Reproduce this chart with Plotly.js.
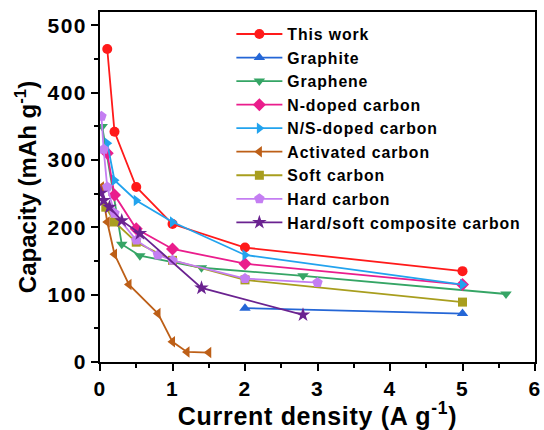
<!DOCTYPE html>
<html>
<head>
<meta charset="utf-8">
<script src="https://cdn.plot.ly/plotly-3.0.1.min.js"></script>
<style>
html,body{margin:0;padding:0;background:#fff;}
#chart{width:544px;height:430px;}
#chart .legendtext{letter-spacing:0.9px;}
#chart .legend .scrollbox, #chart .legend g{clip-path:none !important;}
#chart .xtick text, #chart .ytick text{letter-spacing:1.4px;}
#chart .xtitle{letter-spacing:0.7px;}
</style>
</head>
<body>
<div id="chart"></div>
<script>
// Series names
const names = ["This work","Graphite","Graphene","N-doped carbon","N/S-doped carbon","Activated carbon","Soft carbon","Hard carbon","Hard/soft composite carbon"];

// Current density (A g-1) and capacity (mAh g-1) per series
const xThisWork = [0.1, 0.2, 0.5, 1, 2, 5];
const yThisWork = [465, 342, 260, 205, 170, 135];

const xGraphite = [2, 5];
const yGraphite = [80, 72];

const xGraphene = [0.03, 0.3, 0.55, 1.4, 2.8, 5.6];
const yGraphene = [350, 175, 158, 140, 128, 101];

const xNdoped = [0.1, 0.2, 0.5, 1, 2, 5];
const yNdoped = [310, 248, 198, 168, 146, 115];

const xNSdoped = [0.1, 0.2, 0.5, 1, 2, 5];
const yNSdoped = [325, 270, 240, 208, 159, 115];

const xActivated = [0.02, 0.1, 0.2, 0.4, 0.8, 1.0, 1.2, 1.5];
const yActivated = [260, 208, 160, 115, 72, 30, 15, 14];

const xSoft = [0.08, 0.2, 0.5, 1, 2, 5];
const ySoft = [230, 208, 178, 151, 122, 89];

const xHard = [0.02, 0.05, 0.1, 0.2, 0.5, 0.8, 1, 2, 3];
const yHard = [365, 316, 260, 221, 181, 159, 151, 124, 118];

const xHardSoft = [0.01, 0.05, 0.13, 0.3, 0.55, 1.4, 2.8];
const yHardSoft = [251, 240, 230, 210, 191, 110, 70];

const xs = [xThisWork, xGraphite, xGraphene, xNdoped, xNSdoped, xActivated, xSoft, xHard, xHardSoft];
const ys = [yThisWork, yGraphite, yGraphene, yNdoped, yNSdoped, yActivated, ySoft, yHard, yHardSoft];
const colors = ["#ff1a1a","#2466d6","#35a565","#ea1d8c","#22a3ee","#bd5f17","#a89e1e","#c47ef2","#6a2290"];
const symbols = ["circle","triangle-up","triangle-down","diamond","triangle-right","triangle-left","square","pentagon","star"];
const sizes = [10,10,10,10,10,10,9,11,11];

const FONT = "Liberation Sans, Arial, sans-serif";

const traces = names.map((n, i) => ({
  type: "scatter",
  mode: "lines+markers",
  name: n,
  x: xs[i],
  y: ys[i],
  line: {color: colors[i], width: 1.8},
  marker: {color: colors[i], symbol: symbols[i], size: sizes[i], line: {width: 0}}
}));

const layout = {
  width: 544, height: 430,
  paper_bgcolor: "#ffffff",
  plot_bgcolor: "#ffffff",
  margin: {l: 100, r: 9, t: 12, b: 68},
  font: {family: FONT, color: "#000", weight: "bold"},
  showlegend: true,
  legend: {
    x: 0.302, y: 0.985, xanchor: "left", yanchor: "top",
    bgcolor: "rgba(0,0,0,0)", borderwidth: 0,
    font: {family: FONT, size: 15.8, color: "#000", weight: "bold"},
    itemwidth: 46,
    tracegroupgap: 0
  },
  xaxis: {
    range: [0, 6], dtick: 1, tick0: 0,
    showgrid: false, zeroline: false,
    showline: true, linecolor: "#000", linewidth: 2, mirror: true,
    ticks: "outside", ticklen: 7, tickwidth: 2, tickcolor: "#000",
    minor: {dtick: 0.5, ticks: "outside", ticklen: 4, tickwidth: 2, tickcolor: "#000"},
    tickfont: {family: FONT, size: 21, color: "#000", weight: "bold"},
    title: {text: "Current density (A g<sup>-1</sup>)", font: {family: FONT, size: 25, color: "#000", weight: "bold"}, standoff: 2}
  },
  yaxis: {
    range: [0, 520], dtick: 100, tick0: 0,
    showgrid: false, zeroline: false,
    showline: true, linecolor: "#000", linewidth: 2, mirror: true,
    ticks: "outside", ticklen: 7, tickwidth: 2, tickcolor: "#000",
    minor: {dtick: 50, ticks: "outside", ticklen: 4, tickwidth: 2, tickcolor: "#000"},
    tickfont: {family: FONT, size: 21, color: "#000", weight: "bold"},
    title: {text: "Capacity (mAh g<sup>-1</sup>)", font: {family: FONT, size: 24, color: "#000", weight: "bold"}, standoff: 8}
  }
};

Plotly.newPlot("chart", traces, layout, {displayModeBar: false, staticPlot: true});
</script>
</body>
</html>
